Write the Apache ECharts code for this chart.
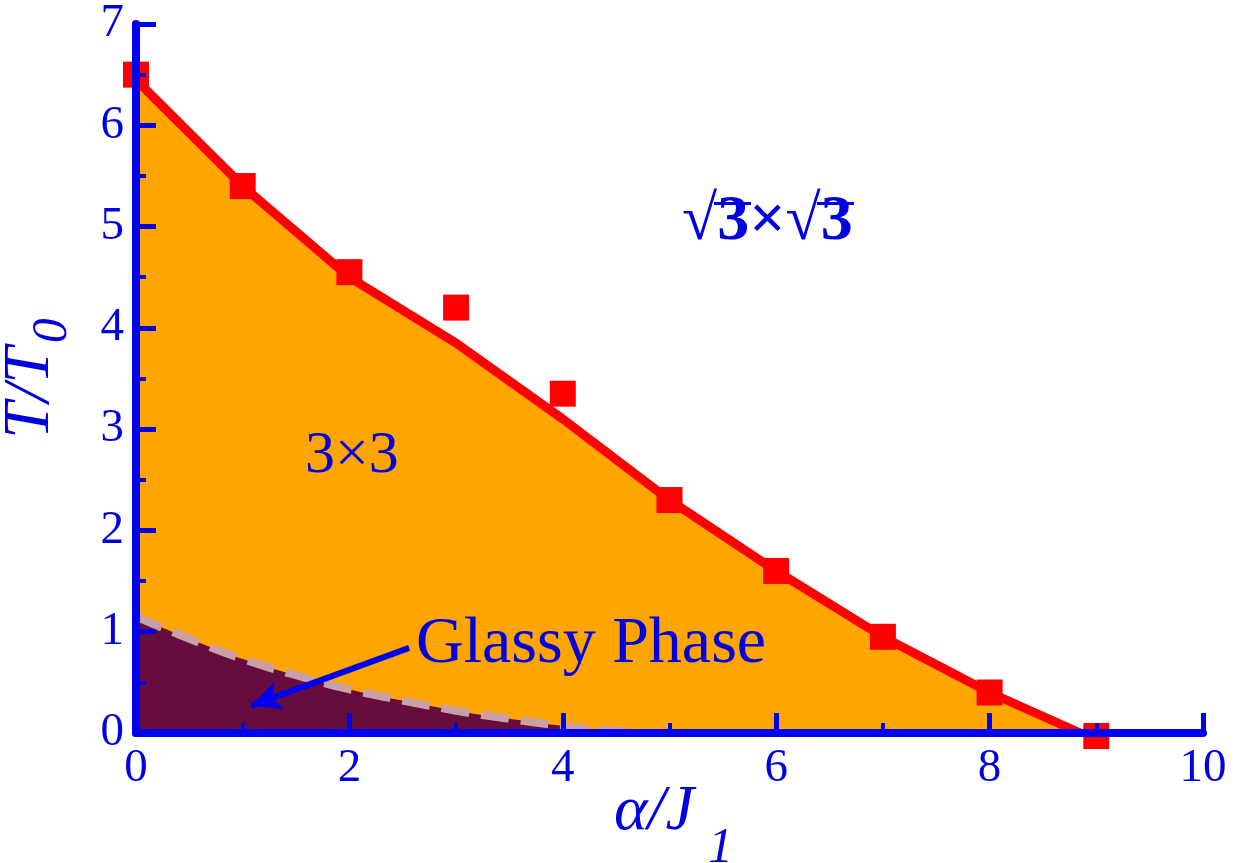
<!DOCTYPE html>
<html>
<head>
<meta charset="utf-8">
<script src="https://cdn.jsdelivr.net/npm/echarts@6/dist/echarts.min.js"></script>
<style>
  html, body { margin: 0; padding: 0; background: #fff; }
  #chart { width: 1234px; height: 863px; }
</style>
</head>
<body>
<div id="chart"></div>
<script>
// measured transition points (red squares)
const alphaPts = [0, 1, 2, 3, 4, 5, 6, 7, 8, 9];
const tcPts = [6.5, 5.4, 4.55, 4.2, 3.35, 2.3, 1.6, 0.95, 0.4, -0.03];

// fitted 3x3 boundary (red line)
const fitX = [0, 1, 2, 3, 4, 5, 6, 7, 8, 8.85];
const fitY = [6.45, 5.4, 4.5, 3.85, 3.1, 2.3, 1.6, 0.95, 0.4, 0];

// glassy phase boundary (dashed)
const glassX = [0, 0.5, 1, 1.5, 2, 2.5, 3, 3.5, 4, 4.5, 5];
const glassY = [1.15, 0.93, 0.73, 0.57, 0.43, 0.32, 0.22, 0.14, 0.07, 0.02, 0];

const blue = "#0000f0";
const textBlue = "#0000e0";
const serif = "'Liberation Serif', 'Times New Roman', serif";

const zip = (xs, ys) => xs.map((x, i) => [x, ys[i]]);

const chart = echarts.init(document.getElementById("chart"));

const axisCommon = {
  zlevel: 1,
  nameMoveOverlap: false,
  axisLine: { show: true, lineStyle: { color: blue, width: 8 } },
  axisTick: { show: true, inside: true, length: 20, lineStyle: { color: blue, width: 5 } },
  minorTick: { show: true, splitNumber: 2, length: 10, lineStyle: { color: blue, width: 4 } },
  splitLine: { show: false },
  axisLabel: { color: textBlue, fontFamily: serif, fontSize: 47, margin: 12 },
};

const italic = { fontFamily: serif, fontStyle: "italic", fill: textBlue };

chart.setOption({
  animation: false,
  grid: { left: 136, right: 31, top: 24, bottom: 130, containLabel: false, outerBoundsMode: "none" },
  xAxis: {
    ...axisCommon,
    type: "value",
    min: 0,
    max: 10,
    interval: 2,
  },
  yAxis: {
    ...axisCommon,
    type: "value",
    min: 0,
    max: 7,
    interval: 1,
    name: "{m|T/T}{s|0}",
    nameLocation: "middle",
    nameGap: 58,
    nameRotate: 90,
    nameTextStyle: {
      rich: {
        m: { fontFamily: serif, fontStyle: "italic", fontSize: 66, color: textBlue, verticalAlign: "top" },
        s: { fontFamily: serif, fontStyle: "italic", fontSize: 50, color: textBlue, padding: [30, 0, 0, 4], verticalAlign: "top" },
      },
    },
  },
  series: [
    {
      name: "3x3 boundary",
      type: "line",
      data: zip(fitX, fitY),
      showSymbol: false,
      lineStyle: { color: "#ff0000", width: 9 },
      areaStyle: { color: "#ffa500", opacity: 1 },
      z: 2,
    },
    {
      name: "glassy",
      type: "line",
      data: zip(glassX, glassY),
      smooth: true,
      showSymbol: false,
      lineStyle: { color: "#c9a0a6", width: 8, type: [28, 12] },
      areaStyle: { color: "#660c3e", opacity: 1 },
      z: 3,
      markLine: {
        silent: true,
        symbol: ["none", "arrow"],
        symbolSize: [22, 30],
        label: { show: false },
        lineStyle: { color: blue, width: 6, type: "solid" },
        data: [[{ coord: [2.56, 0.84] }, { coord: [1.08, 0.27] }]],
      },
    },
    {
      name: "Tc",
      type: "scatter",
      data: zip(alphaPts, tcPts),
      symbol: "rect",
      symbolSize: 26,
      clip: false,
      itemStyle: { color: "#ff0000", opacity: 1 },
      z: 4,
    },
  ],
  graphic: [
    // x axis title with lowered subscript
    { type: "text", left: 614, top: 780, style: { ...italic, text: "α/J", fontSize: 64 }, z: 20 },
    { type: "text", left: 708, top: 824, style: { ...italic, text: "1", fontSize: 50 }, z: 20 },
    {
      type: "text",
      left: 305,
      top: 426,
      style: { text: "3×3", fontFamily: serif, fontSize: 60, fill: textBlue },
      z: 20,
    },
    {
      type: "text",
      left: 416,
      top: 612,
      style: { text: "Glassy Phase", fontFamily: serif, fontSize: 66, fill: textBlue },
      z: 20,
    },
    {
      type: "text",
      left: 682,
      top: 190,
      style: { text: "√3×√3", fontFamily: serif, fontWeight: "bold", fontSize: 64, fill: textBlue },
      z: 20,
    },
    // radical bars over the 3s
    { type: "rect", shape: { x: 714, y: 202, width: 37, height: 3 }, style: { fill: textBlue }, z: 20 },
    { type: "rect", shape: { x: 817, y: 202, width: 37, height: 3 }, style: { fill: textBlue }, z: 20 },
  ],
});
</script>
</body>
</html>
